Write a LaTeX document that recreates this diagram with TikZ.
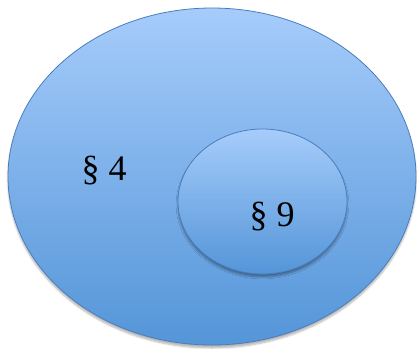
\documentclass[tikz,border=0pt]{standalone}
\usepackage{fontspec}
\setmainfont{Liberation Serif}
\usetikzlibrary{shapes.geometric,shadows.blur}
\definecolor{topblue}{HTML}{A6CCFB}
\definecolor{botblue}{HTML}{5495D8}
\definecolor{edgeblue}{HTML}{4A7EBB}
\tikzset{
  setshape/.style={ellipse, draw=edgeblue, line width=0.8pt, top color=topblue, bottom color=botblue, inner sep=0pt},
  lab/.style={font=\fontsize{36}{40}\selectfont, text=black, inner sep=0pt}
}
\begin{document}
\begin{tikzpicture}[x=1pt,y=-1pt]
\useasboundingbox (0,0) rectangle (417,348);
\node[setshape, minimum width=408pt, minimum height=337pt, blur shadow={shadow xshift=0pt, shadow yshift=-3pt, shadow blur steps=6, shadow opacity=30}] (outer) at (212,176.5) {};
\node[setshape, minimum width=169pt, minimum height=145pt, blur shadow={shadow xshift=0pt, shadow yshift=-3pt, shadow blur steps=6, shadow opacity=35}] (inner) at (262.5,201.5) {};
\node[lab] (s4) at (104,171) {§ 4};
\node[lab] (s9) at (272,217) {§ 9};
\end{tikzpicture}
\end{document}
